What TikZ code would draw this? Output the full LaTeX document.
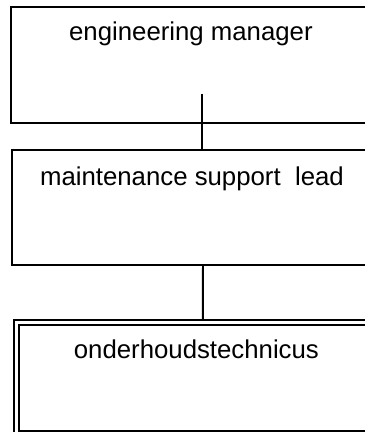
\documentclass[tikz,border=0pt]{standalone}
\usepackage{fontspec}
\setmainfont{Liberation Sans}
\usepackage{tikz}
\usetikzlibrary{arrows.meta}

\begin{document}
\begin{tikzpicture}[
		box/.style={draw, rectangle, anchor=north west, inner sep=0pt, minimum width=10.8cm, align=center, line width=1.6pt, font=\fontsize{22}{26}\selectfont},
		dbox/.style={box, double, double distance=0.09cm, line width=1.5pt},
		link/.style={draw, line width=1.6pt}
	]
	\useasboundingbox (0, 0) rectangle (10.95, -12.96);

	% top
	\node[box, text height=1.02cm, text depth=2.46cm] (mgr) at (0.30, -0.18) {engineering manager};

	% middle
	\node[box, text height=1.08cm, text depth=2.37cm] (lead) at (0.33, -4.47) {maintenance support\ \ lead};

	% bottom
	\node[dbox, text height=1.095cm, text depth=2.235cm] (tech) at (0.465, -9.645) {onderhoudstechnicus};

	\draw[link] ([xshift=0.33cm, yshift=0.9cm]mgr.south) -- ([xshift=0.30cm]lead.north);
	\draw[link] ([xshift=0.33cm]lead.south) -- ([xshift=0.195cm, yshift=0.08cm]tech.north);

\end{tikzpicture}
\end{document}
